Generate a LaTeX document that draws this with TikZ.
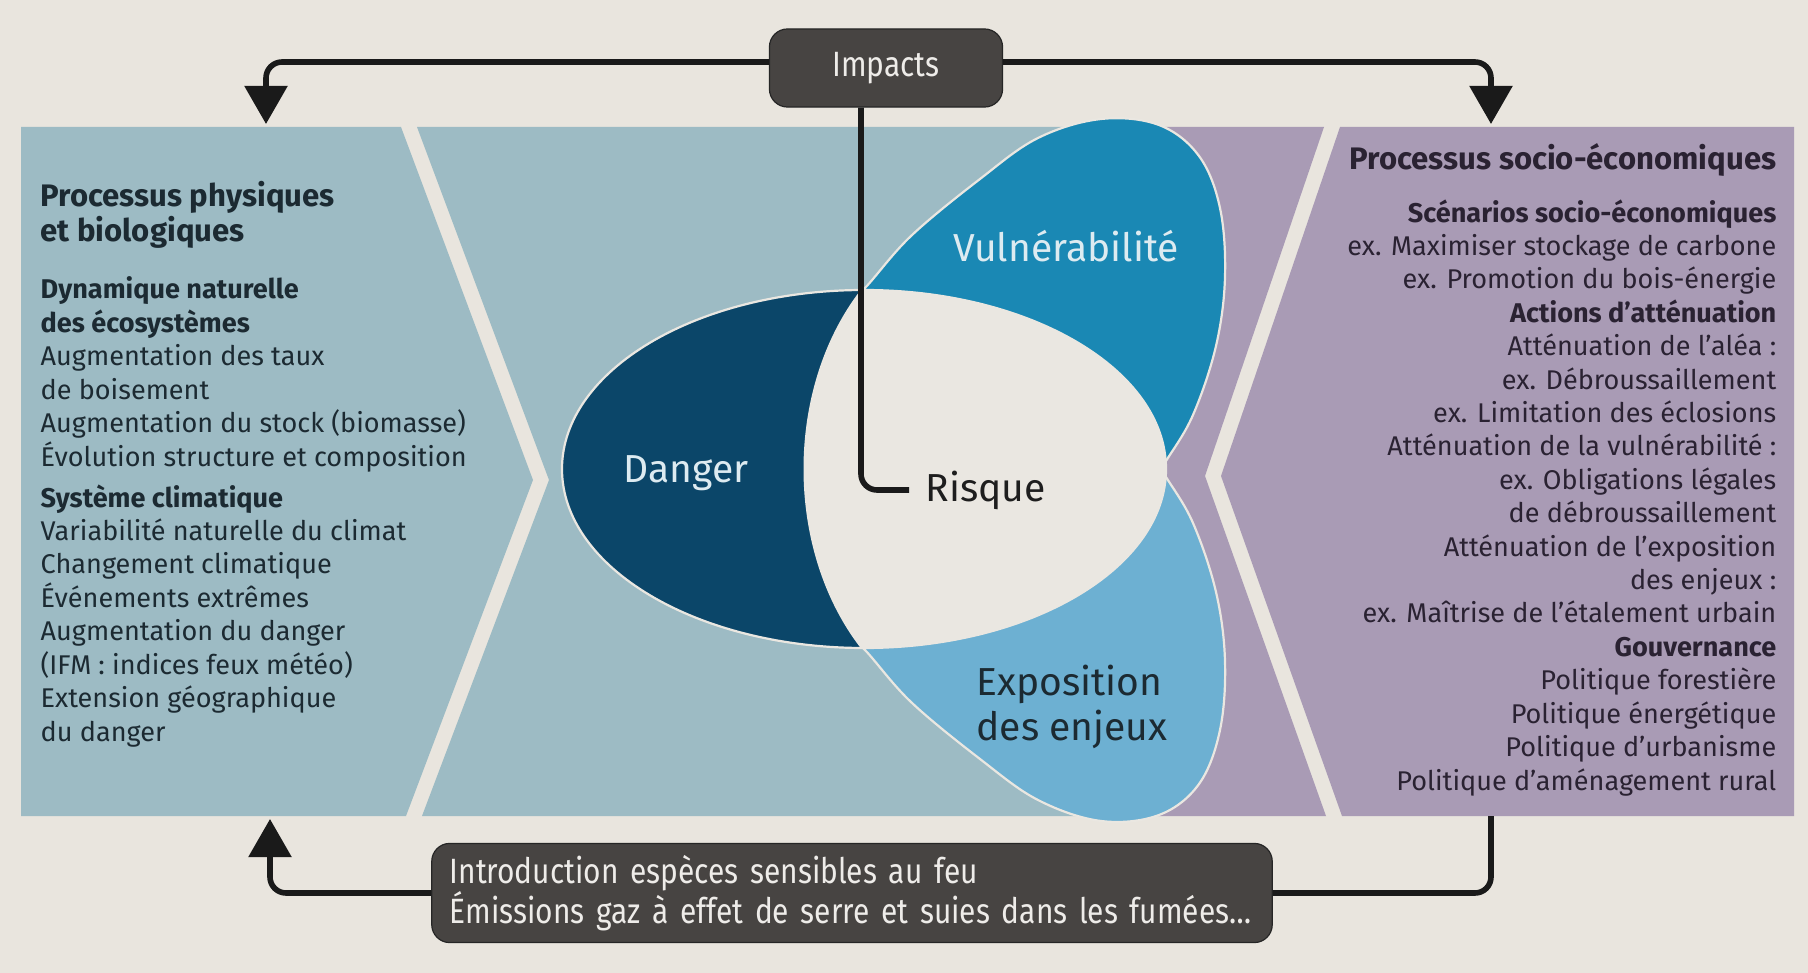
\documentclass[tikz,border=0pt]{standalone}
\usepackage{fontspec}
\setmainfont{Fira Sans}
\newfontfamily\condfont{Fira Sans}[FakeStretch=0.85]
\usetikzlibrary{arrows.meta,calc}
\definecolor{bg}{HTML}{E9E5DE}
\definecolor{panelblue}{HTML}{9DBBC4}
\definecolor{panelpurple}{HTML}{A99BB5}
\definecolor{dangercol}{HTML}{0B4669}
\definecolor{vulncol}{HTML}{1A88B4}
\definecolor{expocol}{HTML}{6DB0D2}
\definecolor{centercol}{HTML}{EAE7E1}
\definecolor{boxcol}{HTML}{474442}
\definecolor{boxtext}{HTML}{EEECE9}
\definecolor{inkblue}{HTML}{1C2A32}
\definecolor{inkpurple}{HTML}{2A2232}
\definecolor{inkdark}{HTML}{1E1E1E}
\definecolor{lightlabel}{HTML}{DDEBF1}
\definecolor{linecol}{HTML}{1A1A1A}
\begin{document}
\begin{tikzpicture}[x=0.01cm, y=-0.01cm,
  conn/.style={draw=linecol, line width=0.056cm, rounded corners=0.16cm},
  tipped/.style={-{Triangle[length=0.38cm,width=0.42cm]}},
  darkbox/.style={fill=boxcol, draw=black!85, line width=0.012cm, rounded corners=0.18cm, text=boxtext},
  petal/.style={draw=centercol, line width=0.022cm},
  biglabel/.style={font=\fontsize{11.1}{13}\selectfont, inner sep=0},
  lefttext/.style={anchor=base west, align=left, inner sep=0, text=inkblue},
  righttext/.style={anchor=base east, align=right, inner sep=0, text=inkpurple},
  bodyfont/.style={font=\fontsize{7.7}{9.5}\selectfont},
  headfont/.style={font=\bfseries\fontsize{8.85}{10.2}\selectfont}
]
\fill[bg] (0,0) rectangle (1808,973);
\useasboundingbox (0,0) rectangle (1808,973);

% panels
\fill[panelblue] (21,127) -- (401,127) -- (533,480) -- (406,816) -- (21,816) -- cycle;
\fill[panelblue] (417,127) -- (1153,127) -- (1153,816) -- (422,816) -- (549,480) -- cycle;
\fill[panelpurple] (1153,127) -- (1324,127) -- (1205,476) -- (1326,816) -- (1153,816) -- cycle;
\fill[panelpurple] (1340,127) -- (1794,127) -- (1794,816) -- (1342,816) -- (1221,476) -- cycle;

% petals
\filldraw[fill=vulncol, petal] plot[smooth, tension=0.6] coordinates {(840,310) (865,288) (911,236) (980,179) (1038,138) (1101,119) (1159,125) (1199,156) (1220,208) (1225,277) (1216,346) (1193,415) (1166,461) (1150,485)} -- cycle;
\filldraw[fill=expocol, petal] plot[smooth, tension=0.6] coordinates {(840,628) (865,650) (911,702) (980,759) (1038,800) (1101,821) (1159,815) (1199,784) (1220,730) (1225,661) (1216,592) (1193,523) (1166,477) (1150,453)} -- cycle;
\filldraw[fill=dangercol, petal] (864,469) ellipse [x radius=302, y radius=179];
\begin{scope}
  \clip (864,469) ellipse [x radius=302, y radius=179];
  \fill[centercol] (880,268) .. controls (778,370) and (778,568) .. (880,670) -- (1250,670) -- (1250,268) -- cycle;
\end{scope}

% labels
\node[biglabel, text=lightlabel] (vul) at (1066,246) {Vulnérabilité};
\node[biglabel, text=lightlabel] (dan) at (686,473) {Danger};
\node[biglabel, text=inkdark, anchor=west, inner xsep=0.16cm] (risque) at (909,490) {Risque};
\node[biglabel, text=inkblue, align=left] (expo) at (1072,707) {Exposition\\des enjeux};

% boxes
\node[darkbox, minimum width=2.33cm, minimum height=0.78cm, font=\condfont\fontsize{10}{12}\selectfont] (impacts) at (886,68) {Impacts};
\node[darkbox, minimum height=0.85cm, text width=8.04cm, inner xsep=0.18cm, align=left, font=\condfont\fontsize{10}{11.4}\selectfont] (effets) at (852,893) {Introduction espèces sensibles au feu\\Émissions gaz à effet de serre et suies dans les fumées…};

% panel texts (anchored on the baseline of the last line)
\node[lefttext, headfont] (lhead) at (40,242) {Processus physiques\\et biologiques};
\node[lefttext, bodyfont] (lbody) at (40,741) {\textbf{Dynamique naturelle}\\\textbf{des écosystèmes}\\Augmentation des taux\\de boisement\\Augmentation du stock (biomasse)\\Évolution structure et composition\\[2.2pt]\textbf{Système climatique}\\Variabilité naturelle du climat\\Changement climatique\\Événements extrêmes\\Augmentation du danger\\(IFM : indices feux météo)\\Extension géographique\\du danger};
\node[righttext, headfont] (rhead) at (1777,170) {Processus socio-économiques};
\node[righttext, bodyfont] (rbody) at (1777,790) {\textbf{Scénarios socio-économiques}\\ex. Maximiser stockage de carbone\\ex. Promotion du bois-énergie\\\textbf{Actions d’atténuation}\\Atténuation de l’aléa :\\ex. Débroussaillement\\ex. Limitation des éclosions\\Atténuation de la vulnérabilité :\\ex. Obligations légales\\de débroussaillement\\Atténuation de l’exposition\\des enjeux :\\ex. Maîtrise de l’étalement urbain\\\textbf{Gouvernance}\\Politique forestière\\Politique énergétique\\Politique d’urbanisme\\Politique d’aménagement rural};

% connector ends
\coordinate (lp-top) at (266,124);
\coordinate (rp-top) at (1491,124);
\coordinate (lp-bot) at (270,819);
\coordinate (rp-bot) at (1491,816);

% connectors
\draw[conn, tipped] ($(impacts.west)+(0,-6)$) -| (lp-top);
\draw[conn, tipped] ($(impacts.east)+(0,-6)$) -| (rp-top);
\draw[conn] ($(impacts.south)+(-25,0)$) |- (risque.west);
\draw[conn] (rp-bot) |- (effets.east);
\draw[conn, tipped] (effets.west) -| (lp-bot);
\end{tikzpicture}
\end{document}
